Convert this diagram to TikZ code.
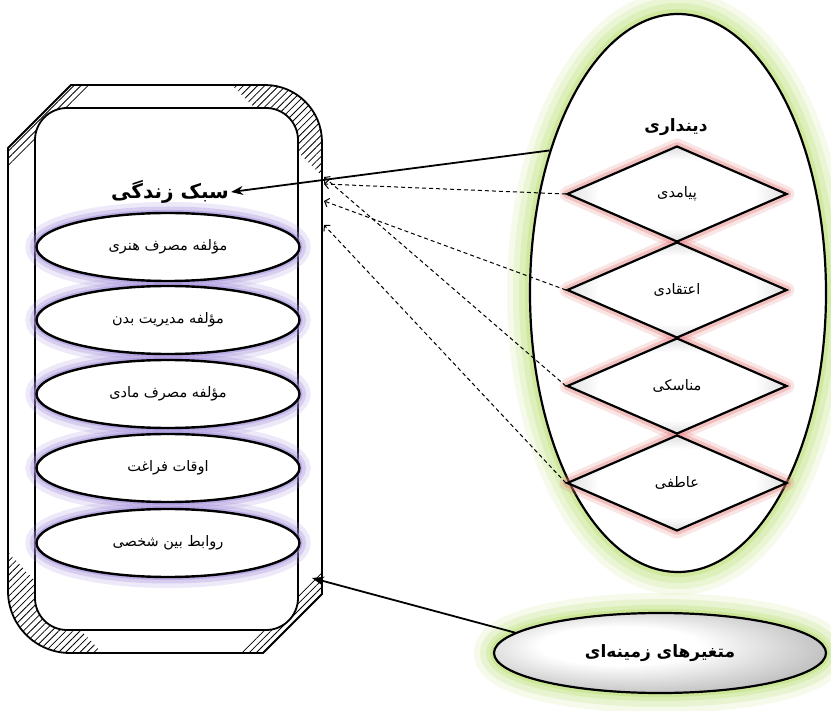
\documentclass[tikz,border=0pt]{standalone}
\usepackage{fontspec}
\newfontfamily\fa[Script=Arabic]{DejaVu Sans}
\TeXXeTstate=1
\usetikzlibrary{arrows.meta,shapes.geometric,patterns.meta}
\newcommand\fatext[1]{{\fa\beginR #1\endR}}
\definecolor{lav}{RGB}{165,145,220}
\definecolor{pinkglow}{RGB}{232,125,125}
\definecolor{greenglow}{RGB}{190,225,120}
\pgfdeclareradialshading{bigsh}{\pgfpoint{0bp}{0bp}}{color(0bp)=(white); color(40bp)=(white); color(50bp)=(black!18)}
\pgfdeclareradialshading{diash}{\pgfpoint{0bp}{0bp}}{color(0bp)=(white); color(18bp)=(white); color(30bp)=(black!22); color(50bp)=(black!30)}
\pgfdeclareradialshading{botsh}{\pgfpoint{-8bp}{6bp}}{color(0bp)=(white); color(12bp)=(white); color(50bp)=(black!55)}
\tikzset{
  comp/.style={ellipse, draw, line width=2.4pt, fill=white, minimum width=263pt, minimum height=68pt, inner sep=0pt, font=\fa\fontsize{14.5}{16}\selectfont},
  dim/.style={diamond, draw, line width=2.2pt, shading=diash, minimum width=220pt, minimum height=96pt, inner sep=0pt, font=\fa\fontsize{14.5}{16}\selectfont},
  dashlink/.style={dash pattern=on 4pt off 3pt, line width=1pt, -{Straight Barb[length=4pt,width=9pt]}},
  mainlink/.style={line width=1.8pt, -{Stealth[length=12pt,width=9pt]}},
  hatch/.style={pattern={Lines[angle=45,distance=5pt,line width=0.8pt]}},
}
\begin{document}
\begin{tikzpicture}[x=1pt,y=-1pt]
\useasboundingbox (0,0) rectangle (831,711);
\fill[white] (0,0) rectangle (831,711);

% ---------- left frame ----------
\def\outerpath{(8,148) -- (71,85) -- (265,85) arc[start angle=-90,end angle=0,radius=57] -- (322,594) -- (263,653) -- (70,653) arc[start angle=90,end angle=180,radius=62] -- cycle}
\begin{scope}
  \clip (8,85) -- (93,85) -- (8,170) -- cycle;
  \fill[hatch] \outerpath;
\end{scope}
\begin{scope}
  \clip (232,85) -- (322,85) -- (322,176) -- cycle;
  \fill[hatch] \outerpath;
\end{scope}
\begin{scope}
  \clip (8,552) -- (8,653) -- (102,653) -- cycle;
  \fill[hatch] \outerpath;
\end{scope}
\begin{scope}
  \clip (322,572) -- (322,653) -- (241,653) -- cycle;
  \fill[hatch] \outerpath;
\end{scope}
\fill[white, rounded corners=32pt] (35,108) rectangle (298,630);
\draw[line width=1.8pt] \outerpath;
\draw[line width=1.8pt, rounded corners=32pt] (35,108) rectangle (298,630);

% ---------- component glows ----------
\foreach \yy in {247,320,394,468,543}{
  \draw[lav, line width=22pt, opacity=.2] (168,\yy) ellipse [x radius=131.5, y radius=34];
  \draw[lav, line width=13pt, opacity=.3] (168,\yy) ellipse [x radius=131.5, y radius=34];
  \draw[lav, line width=6pt, opacity=.5] (168,\yy) ellipse [x radius=131.5, y radius=34];
}
\node[comp] (c1) at (168,247) {\fatext{مؤلفه مصرف هنری}};
\node[comp] (c2) at (168,320) {\fatext{مؤلفه مدیریت بدن}};
\node[comp] (c3) at (168,394) {\fatext{مؤلفه مصرف مادی}};
\node[comp] (c4) at (168,468) {\fatext{اوقات فراغت}};
\node[comp] (c5) at (168,543) {\fatext{روابط بین شخصی}};
\node[font=\fa\bfseries\fontsize{20}{22}\selectfont, inner sep=2pt] (sabk) at (170,192) {\fatext{سبک زندگی}};

% ---------- religiosity ellipse ----------
\foreach \w/\o in {46/0.14, 34/0.2, 22/0.28, 10/0.4}{
  \draw[greenglow, line width=\w pt, opacity=\o] (678,293) ellipse [x radius=148, y radius=279];
}
\node[ellipse, draw, line width=2.2pt, shading=bigsh, minimum width=296pt, minimum height=558pt, inner sep=0pt] (din) at (678,293) {};
\node[font=\fa\bfseries\fontsize{17}{19}\selectfont] (dintitle) at (676,127) {\fatext{دینداری}};

\foreach \yy in {194,290,386,483}{
  \draw[pinkglow, line width=15pt, opacity=.2, line join=round] (567,\yy) -- (677,\yy-48) -- (787,\yy) -- (677,\yy+48) -- cycle;
  \draw[pinkglow, line width=8pt, opacity=.35, line join=round] (567,\yy) -- (677,\yy-48) -- (787,\yy) -- (677,\yy+48) -- cycle;
}
\node[dim] (d1) at (677,194) {\fatext{پیامدی}};
\node[dim] (d2) at (677,290) {\fatext{اعتقادی}};
\node[dim] (d3) at (677,386) {\fatext{مناسکی}};
\node[dim] (d4) at (677,483) {\fatext{عاطفی}};

% ---------- background variables ----------
\foreach \w/\o in {40/0.14, 28/0.22, 16/0.32, 8/0.45}{
  \draw[greenglow, line width=\w pt, opacity=\o] (660,653) ellipse [x radius=166, y radius=40];
}
\node[ellipse, draw, line width=2.2pt, shading=botsh, minimum width=332pt, minimum height=80pt, inner sep=0pt, font=\fa\bfseries\fontsize{17}{19}\selectfont] (zam) at (660,653) {\fatext{متغیرهای زمینه‌ای}};

% ---------- connectors ----------
\coordinate (e1) at (324,184);
\coordinate (e2) at (324,201);
\coordinate (e3) at (324,177);
\coordinate (e4) at (324,225);
\coordinate (eb) at (312,578);
\draw[mainlink] (din.132) -- (sabk.east);
\draw[dashlink] (d1.west) -- (e1);
\draw[dashlink] (d2.west) -- (e2);
\draw[dashlink] (d3.west) -- (e3);
\draw[dashlink] (d4.west) -- (e4);
\draw[mainlink] (zam.172) -- (eb);
\end{tikzpicture}
\end{document}
